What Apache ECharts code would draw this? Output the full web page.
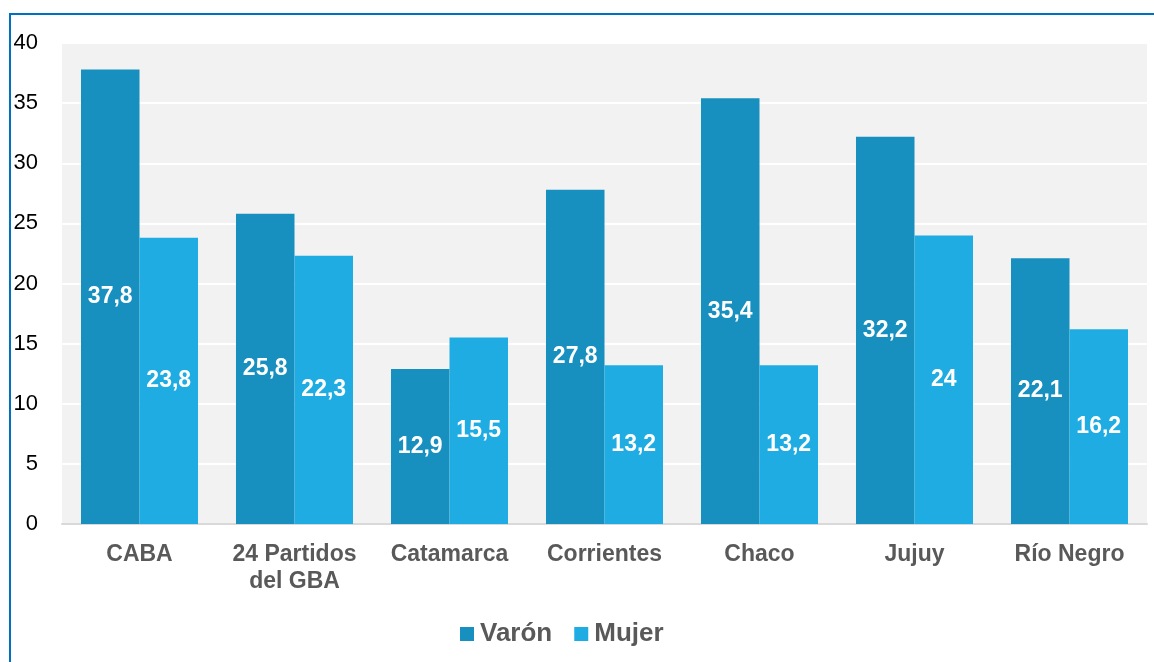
<!DOCTYPE html>
<html>
<head>
<meta charset="utf-8">
<script src="https://cdn.jsdelivr.net/npm/echarts@6/dist/echarts.min.js"></script>
<style>
  html, body { margin: 0; padding: 0; background: #fff; }
  #chart { width: 1154px; height: 662px; }
</style>
</head>
<body>
<div id="chart"></div>
<script>
// datos
const categories = ["CABA", "24 Partidos\ndel GBA", "Catamarca", "Corrientes", "Chaco", "Jujuy", "Río Negro"];
const varon = [37.8, 25.8, 12.9, 27.8, 35.4, 32.2, 22.1];
const mujer = [23.8, 22.3, 15.5, 13.2, 13.2, 24, 16.2];

const chart = echarts.init(document.getElementById("chart"));

function fmt(v) {
  return String(v).replace(".", ",");
}

const label = {
  show: true,
  position: "inside",
  color: "#fff",
  fontWeight: "bold",
  fontSize: 23,
  fontFamily: "Liberation Sans, Arial, sans-serif",
  formatter: p => fmt(p.value)
};

chart.setOption({
  animation: false,
  textStyle: { fontFamily: "Liberation Sans, Arial, sans-serif" },
  graphic: [
    {
      type: "polyline",
      shape: { points: [[10, 662], [10, 14], [1154, 14]] },
      style: { stroke: "#0070C0", lineWidth: 2, fill: null }
    }
  ],
  grid: {
    left: 62,
    right: 7,
    top: 43,
    bottom: 138,
    show: true,
    backgroundColor: "#F2F2F2",
    borderWidth: 0
  },
  legend: {
    top: 616,
    left: 455,
    itemWidth: 14,
    itemHeight: 14,
    itemGap: 22,
    icon: "rect",
    textStyle: { fontSize: 26, fontWeight: "bold", color: "#595959", padding: [0, 0, 0, 1] },
    data: ["Varón", "Mujer"]
  },
  xAxis: {
    type: "category",
    data: categories,
    axisTick: { show: false },
    axisLine: { lineStyle: { color: "#D9D9D9", width: 2 } },
    axisLabel: {
      color: "#595959",
      fontSize: 23,
      fontWeight: "bold",
      lineHeight: 27,
      margin: 17,
      interval: 0
    }
  },
  yAxis: {
    type: "value",
    min: 0,
    max: 40,
    interval: 5,
    axisLine: { show: false },
    axisTick: { show: false },
    axisLabel: { color: "#000", fontSize: 22, margin: 24 },
    splitLine: { lineStyle: { color: "#FFFFFF", width: 2 } }
  },
  series: [
    {
      name: "Varón",
      type: "bar",
      data: varon,
      barGap: "0%",
      barCategoryGap: "24.5%",
      itemStyle: { color: "#178FBF" },
      label: label
    },
    {
      name: "Mujer",
      type: "bar",
      data: mujer,
      barGap: "0%",
      barCategoryGap: "24.5%",
      itemStyle: { color: "#1EACE2" },
      label: label
    }
  ]
});
</script>
</body>
</html>
